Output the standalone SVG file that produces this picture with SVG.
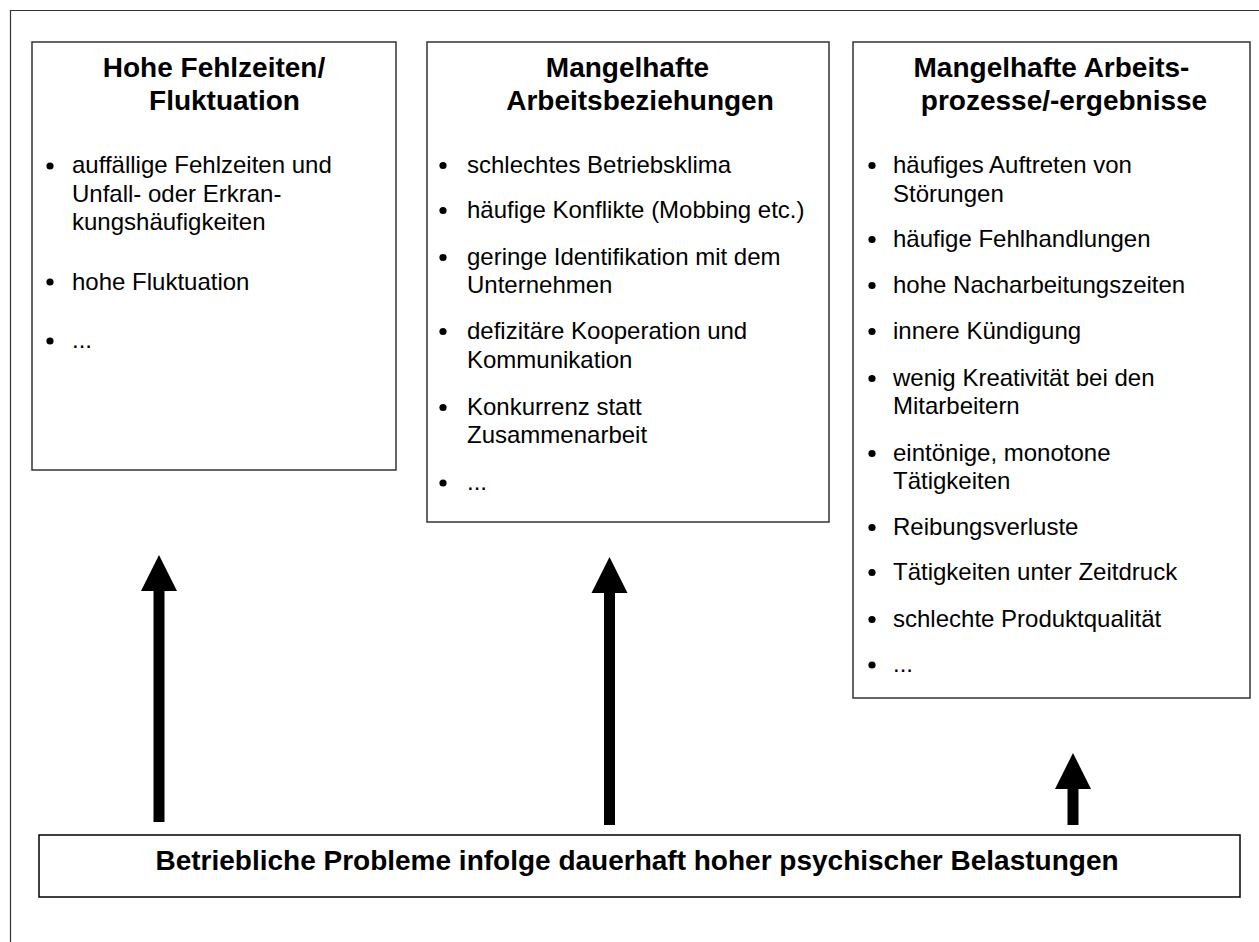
<svg xmlns="http://www.w3.org/2000/svg" width="1259" height="942" viewBox="0 0 1259 942">
<defs>
<style>
text{font-family:"Liberation Sans",Arial,Helvetica,sans-serif;fill:#000}
.t{font-size:28px;font-weight:bold;text-anchor:middle}
.b{font-size:24px}
.box{fill:#fff;stroke:#333;stroke-width:1.5}
.dot{fill:#000}
.arr{stroke:#000;stroke-width:11;fill:none;marker-end:url(#head)}
</style>
<marker id="head" markerUnits="userSpaceOnUse" markerWidth="37" markerHeight="37" refX="1" refY="18" orient="auto" viewBox="0 0 37 36">
<path d="M0,0 L36,18 L0,36 Z" fill="#000"/>
</marker>
</defs>
<rect width="1259" height="942" fill="#fff"/>
<path d="M10.5,942 V10.5 H1259" fill="none" stroke="#333" stroke-width="1.2"/>

<g id="box1">
<rect class="box" x="32" y="42" width="364" height="428"/>
<text class="t" x="214" y="77">Hohe Fehlzeiten/</text>
<text class="t" x="224.5" y="110">Fluktuation</text>
<circle class="dot" cx="50" cy="166" r="3.6"/>
<text class="b" x="72" y="173">auffällige Fehlzeiten und</text>
<text class="b" x="72" y="202">Unfall- oder Erkran-</text>
<text class="b" x="72" y="230">kungshäufigkeiten</text>
<circle class="dot" cx="50" cy="282" r="3.6"/>
<text class="b" x="72" y="290">hohe Fluktuation</text>
<circle class="dot" cx="50" cy="341" r="3.6"/>
<text class="b" x="72" y="348">...</text>
</g>

<g id="box2">
<rect class="box" x="427" y="42" width="402" height="480"/>
<text class="t" x="627.5" y="77">Mangelhafte</text>
<text class="t" x="640" y="110">Arbeitsbeziehungen</text>
<circle class="dot" cx="443" cy="165.5" r="3.6"/>
<text class="b" x="467" y="173">schlechtes Betriebsklima</text>
<circle class="dot" cx="443" cy="210.5" r="3.6"/>
<text class="b" x="467" y="218">häufige Konflikte (Mobbing etc.)</text>
<circle class="dot" cx="443" cy="257.5" r="3.6"/>
<text class="b" x="467" y="265">geringe Identifikation mit dem</text>
<text class="b" x="467" y="293">Unternehmen</text>
<circle class="dot" cx="443" cy="331.5" r="3.6"/>
<text class="b" x="467" y="339">defizitäre Kooperation und</text>
<text class="b" x="467" y="368">Kommunikation</text>
<circle class="dot" cx="443" cy="407.5" r="3.6"/>
<text class="b" x="467" y="415">Konkurrenz statt</text>
<text class="b" x="467" y="443">Zusammenarbeit</text>
<circle class="dot" cx="443" cy="483" r="3.6"/>
<text class="b" x="467" y="490">...</text>
</g>

<g id="box3">
<rect class="box" x="853" y="42" width="397" height="656"/>
<text class="t" x="1051.5" y="77">Mangelhafte Arbeits-</text>
<text class="t" x="1064" y="110">prozesse/-ergebnisse</text>
<circle class="dot" cx="872" cy="165.5" r="3.6"/>
<text class="b" x="893" y="173">häufiges Auftreten von</text>
<text class="b" x="893" y="202">Störungen</text>
<circle class="dot" cx="872" cy="239.5" r="3.6"/>
<text class="b" x="893" y="247">häufige Fehlhandlungen</text>
<circle class="dot" cx="872" cy="285.5" r="3.6"/>
<text class="b" x="893" y="293">hohe Nacharbeitungszeiten</text>
<circle class="dot" cx="872" cy="331.5" r="3.6"/>
<text class="b" x="893" y="339">innere Kündigung</text>
<circle class="dot" cx="872" cy="378.5" r="3.6"/>
<text class="b" x="893" y="386">wenig Kreativität bei den</text>
<text class="b" x="893" y="414">Mitarbeitern</text>
<circle class="dot" cx="872" cy="453.5" r="3.6"/>
<text class="b" x="893" y="461">eintönige, monotone</text>
<text class="b" x="893" y="489">Tätigkeiten</text>
<circle class="dot" cx="872" cy="527.5" r="3.6"/>
<text class="b" x="893" y="535">Reibungsverluste</text>
<circle class="dot" cx="872" cy="572.5" r="3.6"/>
<text class="b" x="893" y="580">Tätigkeiten unter Zeitdruck</text>
<circle class="dot" cx="872" cy="619.5" r="3.6"/>
<text class="b" x="893" y="627">schlechte Produktqualität</text>
<circle class="dot" cx="872" cy="665" r="3.6"/>
<text class="b" x="893" y="672">...</text>
</g>

<g id="bottom">
<rect x="39" y="835" width="1201" height="62" fill="#fff" stroke="#000" stroke-width="1.5"/>
<text class="t" x="637" y="870">Betriebliche Probleme infolge dauerhaft hoher psychischer Belastungen</text>
</g>

<g id="connectors">
<line class="arr" x1="159" y1="822" x2="159" y2="590"/>
<line class="arr" x1="609.5" y1="825" x2="609.5" y2="592"/>
<line class="arr" x1="1073" y1="825" x2="1073" y2="788"/>
</g>
</svg>
